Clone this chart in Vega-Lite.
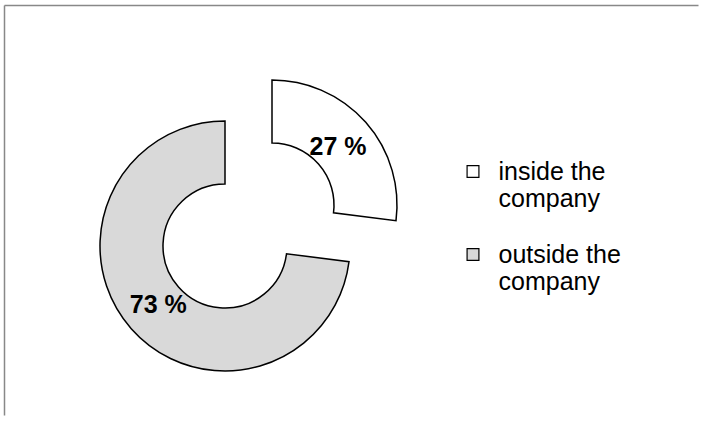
{
  "$schema": "https://vega.github.io/schema/vega-lite/v6.json",
  "width": 694,
  "height": 410,
  "autosize": "none",
  "padding": {"left": 4.5, "top": 5.5, "right": 0, "bottom": 0},
  "background": "white",
  "view": {"stroke": null},
  "config": {
    "font": "Liberation Sans"
  },
  "data": {
    "values": [
      {"location": "inside the company", "share": 27, "label": "27 %"},
      {"location": "outside the company", "share": 73, "label": "73 %"}
    ]
  },
  "layer": [
    {
      "data": {"values": [{"edge": "left"}]},
      "mark": {"type": "rule", "stroke": "#888888", "strokeWidth": 1.5},
      "encoding": {"x": {"value": 0}}
    },
    {
      "data": {"values": [{"edge": "top"}]},
      "mark": {"type": "rule", "stroke": "#888888", "strokeWidth": 1.5},
      "encoding": {"y": {"value": 0}}
    },
    {
      "mark": {"type": "arc", "radius": 125, "radius2": 62, "stroke": "black", "strokeWidth": 1.5, "x": 220.5, "y": 240.5},
      "encoding": {
        "theta": {"field": "share", "type": "quantitative", "stack": true},
        "order": {"field": "share", "sort": "ascending"},
        "color": {
          "field": "location", "type": "nominal",
          "scale": {"domain": ["inside the company", "outside the company"], "range": ["#ffffff", "#d9d9d9"]},
          "legend": {
            "title": null, "orient": "none", "legendX": 456, "legendY": 153.5,
            "symbolType": "square", "symbolSize": 140, "symbolStrokeColor": "black", "symbolStrokeWidth": 1.2,
            "labelFont": "Liberation Sans", "labelFontSize": 25, "labelColor": "black", "labelBaseline": "middle",
            "labelOffset": 13, "labelLimit": 300, "rowPadding": 30,
            "labelExpr": "datum.label == 'inside the company' ? ['inside the', 'company'] : ['outside the', 'company']"
          }
        },
        "opacity": {"condition": {"test": "datum.location == 'outside the company'", "value": 1}, "value": 0}
      }
    },
    {
      "mark": {"type": "text", "radius": 89, "x": 220.5, "y": 240.5, "fontSize": 25, "fontWeight": "bold", "color": "black"},
      "encoding": {
        "theta": {"field": "share", "type": "quantitative", "stack": true},
        "order": {"field": "share", "sort": "ascending"},
        "text": {"field": "label"},
        "opacity": {"condition": {"test": "datum.location == 'outside the company'", "value": 1}, "value": 0}
      }
    },
    {
      "mark": {"type": "arc", "radius": 125, "radius2": 62, "stroke": "black", "strokeWidth": 1.5, "x": 267.5, "y": 199.5},
      "encoding": {
        "theta": {"field": "share", "type": "quantitative", "stack": true},
        "order": {"field": "share", "sort": "ascending"},
        "color": {"field": "location", "type": "nominal"},
        "opacity": {"condition": {"test": "datum.location == 'inside the company'", "value": 1}, "value": 0}
      }
    },
    {
      "mark": {"type": "text", "radius": 88, "x": 267.5, "y": 199.5, "fontSize": 25, "fontWeight": "bold", "color": "black"},
      "encoding": {
        "theta": {"field": "share", "type": "quantitative", "stack": true},
        "order": {"field": "share", "sort": "ascending"},
        "text": {"field": "label"},
        "opacity": {"condition": {"test": "datum.location == 'inside the company'", "value": 1}, "value": 0}
      }
    }
  ]
}
